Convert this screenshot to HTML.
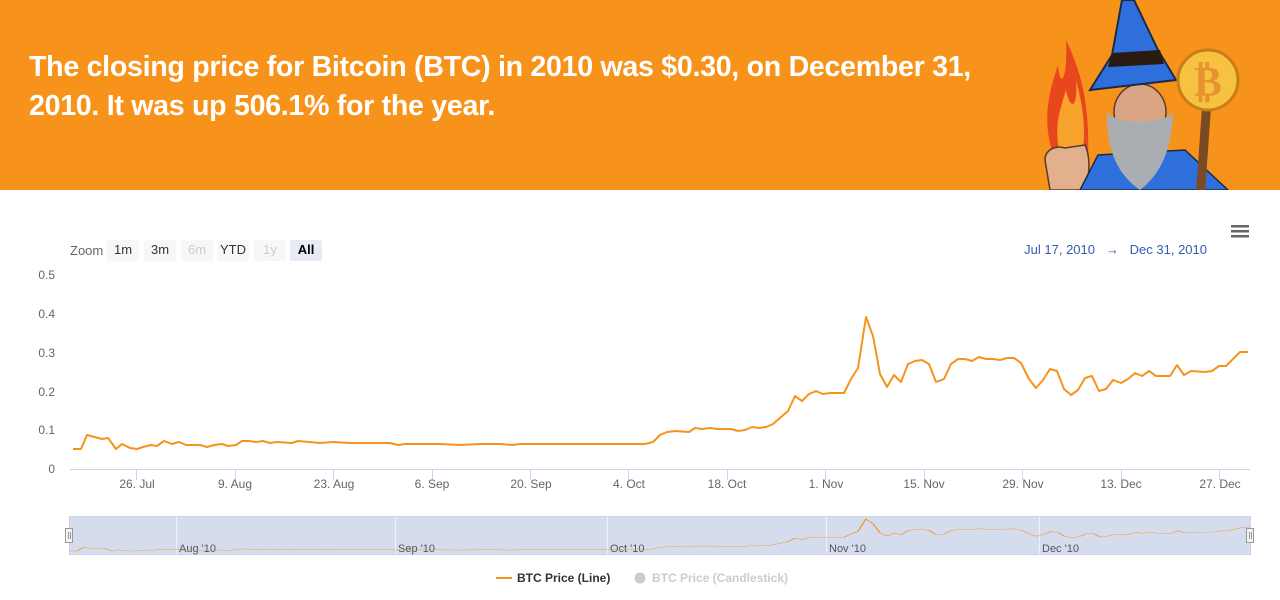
<!DOCTYPE html>
<html><head><meta charset="utf-8"><style>
body{margin:0;width:1280px;height:600px;overflow:hidden;background:#fff;font-family:"Liberation Sans",sans-serif;}
.hdr{position:absolute;left:0;top:0;width:1280px;height:190px;background:#f7931a;}
.hdr h1{position:absolute;left:29px;top:48px;margin:0;color:#fff;font-size:28.6px;line-height:39px;font-weight:bold;letter-spacing:-0.3px;width:990px;}
</style></head><body>
<div class="hdr"><h1>The closing price for Bitcoin (BTC) in 2010 was $0.30, on December 31, 2010. It was up 506.1% for the year.</h1>
<svg width="1280" height="190" style="position:absolute;left:0;top:0">
<path d="M1055 160 C1040 120 1050 90 1058 65 C1060 90 1068 80 1066 40 C1080 70 1090 100 1088 160 Z" fill="#e8461c"/>
<path d="M1062 160 C1052 130 1060 110 1066 90 C1070 110 1078 110 1076 80 C1084 110 1086 130 1082 160 Z" fill="#f7a22b"/>
<path d="M1050 190 L1045 160 C1045 150 1055 145 1065 148 L1085 145 C1092 160 1088 180 1085 190 Z" fill="#e2b08c" stroke="#5a3a2a" stroke-width="1.5"/>
<path d="M1080 190 L1098 155 L1185 150 L1228 190 Z" fill="#2f6fdb" stroke="#1b2a4a" stroke-width="1.5"/>
<rect x="1199" y="105" width="9" height="85" fill="#7a4a24" transform="rotate(4 1203 150)"/>
<ellipse cx="1140" cy="112" rx="26" ry="28" fill="#d9a584" stroke="#5a3a2a" stroke-width="1.5"/>
<path d="M1107 112 C1115 125 1165 125 1173 112 C1172 150 1160 175 1140 190 C1118 175 1106 150 1107 112 Z" fill="#aaadb2"/>
<path d="M1122 0 L1134 0 L1158 50 L1176 80 L1090 90 L1112 55 Z" fill="#2f6fdb" stroke="#1b2a4a" stroke-width="2"/>
<path d="M1112 53 L1160 50 L1164 64 L1108 67 Z" fill="#2a1a10"/>
<circle cx="1208" cy="80" r="30" fill="#f5c242" stroke="#c77d1a" stroke-width="3"/>
<text x="1208" y="96" font-size="42" font-weight="bold" text-anchor="middle" fill="#e8942e" font-family="DejaVu Sans">₿</text>
</svg></div>

<svg width="1280" height="410" style="position:absolute;left:0;top:190px" viewBox="0 190 1280 410">
<g font-size="13" fill="#333">
<text x="70" y="255" fill="#666">Zoom</text>
<rect x="107" y="240" width="32" height="21" rx="2" fill="#f7f7f7"/><text x="123" y="254" text-anchor="middle">1m</text>
<rect x="144" y="240" width="32" height="21" rx="2" fill="#f7f7f7"/><text x="160" y="254" text-anchor="middle">3m</text>
<rect x="181" y="240" width="32" height="21" rx="2" fill="#f7f7f7"/><text x="197" y="254" text-anchor="middle" fill="#ccc">6m</text>
<rect x="217" y="240" width="32" height="21" rx="2" fill="#f7f7f7"/><text x="233" y="254" text-anchor="middle">YTD</text>
<rect x="254" y="240" width="32" height="21" rx="2" fill="#f7f7f7"/><text x="270" y="254" text-anchor="middle" fill="#ccc">1y</text>
<rect x="290" y="240" width="32" height="21" rx="2" fill="#e6ebf5"/><text x="306" y="254" text-anchor="middle" font-weight="bold" fill="#000">All</text>
<text x="1207" y="254" text-anchor="end" fill="#335cad">Jul 17, 2010 &#160; → &#160; Dec 31, 2010</text>
</g>
<g fill="#666"><rect x="1231" y="225" width="18" height="2.5"/><rect x="1231" y="230" width="18" height="2.5"/><rect x="1231" y="235" width="18" height="2.5"/></g>
<g font-size="12" fill="#666" text-anchor="end">
<text x="55" y="279">0.5</text><text x="55" y="318">0.4</text><text x="55" y="357">0.3</text><text x="55" y="396">0.2</text><text x="55" y="434">0.1</text><text x="55" y="473">0</text>
</g>
<line x1="70" y1="469.5" x2="1250" y2="469.5" stroke="#ccd6eb"/>
<g stroke="#ccd6eb"><line x1="136.5" y1="470" x2="136.5" y2="480"/><line x1="235.5" y1="470" x2="235.5" y2="480"/><line x1="333.5" y1="470" x2="333.5" y2="480"/><line x1="432.5" y1="470" x2="432.5" y2="480"/><line x1="530.5" y1="470" x2="530.5" y2="480"/><line x1="628.5" y1="470" x2="628.5" y2="480"/><line x1="727.5" y1="470" x2="727.5" y2="480"/><line x1="825.5" y1="470" x2="825.5" y2="480"/><line x1="924.5" y1="470" x2="924.5" y2="480"/><line x1="1022.5" y1="470" x2="1022.5" y2="480"/><line x1="1121.5" y1="470" x2="1121.5" y2="480"/><line x1="1219.5" y1="470" x2="1219.5" y2="480"/></g>
<g font-size="12" fill="#666" text-anchor="middle">
<text x="137" y="488">26. Jul</text><text x="235" y="488">9. Aug</text><text x="334" y="488">23. Aug</text><text x="432" y="488">6. Sep</text><text x="531" y="488">20. Sep</text><text x="629" y="488">4. Oct</text><text x="727" y="488">18. Oct</text><text x="826" y="488">1. Nov</text><text x="924" y="488">15. Nov</text><text x="1023" y="488">29. Nov</text><text x="1121" y="488">13. Dec</text><text x="1220" y="488">27. Dec</text>
</g>
<defs><polyline id="ln" points="73,449 81,449 87,435 102,439 108,438 116,449 122,444 130,448 137,449 143,447 151,445 157,446 164,441 172,444 179,442 186,445 200,445 207,447 214,445 222,444 228,446 236,445 242,441 249,441 256,442 263,441 270,443 277,442 292,443 298,441 320,443 333,442 350,443 370,443 390,443 398,445 405,444 420,444 440,444 460,445 480,444 500,444 512,445 520,444 540,444 580,444 600,444 616,444 645,444 653,442 660,435 667,432 676,431 689,432 695,428 702,429 710,428 717,429 731,429 738,431 745,430 752,427 759,428 766,427 773,424 781,417 788,411 795,396 802,401 809,394 816,391 823,394 830,393 844,393 851,379 858,368 866,317 873,336 880,374 887,387 894,375 901,382 908,364 915,361 922,360 929,364 936,382 944,379 951,364 958,359 965,359 972,361 979,357 986,359 993,359 1000,360 1007,358 1014,358 1021,363 1029,379 1036,388 1043,380 1050,369 1057,371 1064,389 1071,395 1078,390 1085,378 1092,376 1099,391 1106,389 1113,380 1121,383 1128,379 1135,373 1142,376 1149,371 1156,376 1170,376 1177,365 1184,375 1191,371 1205,372 1212,371 1219,366 1226,366 1233,359 1240,352 1248,352"/></defs>
<use href="#ln" fill="none" stroke="#f7931a" stroke-width="2" stroke-linejoin="round"/>
<rect x="69.5" y="516.5" width="1181" height="38" fill="#ccd6eb" fill-opacity="0.85" stroke="#ccd6eb"/>
<g stroke="#fff" stroke-opacity="0.6"><line x1="176.5" y1="517" x2="176.5" y2="554"/><line x1="395.5" y1="517" x2="395.5" y2="554"/><line x1="607.5" y1="517" x2="607.5" y2="554"/><line x1="826.5" y1="517" x2="826.5" y2="554"/><line x1="1039.5" y1="517" x2="1039.5" y2="554"/></g>
<g font-size="11" fill="#555"><text x="179" y="552">Aug '10</text><text x="398" y="552">Sep '10</text><text x="610" y="552">Oct '10</text><text x="829" y="552">Nov '10</text><text x="1042" y="552">Dec '10</text></g>
<use href="#ln" fill="none" stroke="#f7931a" stroke-width="1.5" vector-effect="non-scaling-stroke" transform="matrix(1.005 0 0 0.2424 -4.4 442.2)"/>
<g fill="#f2f2f2" stroke="#999"><rect x="65.5" y="528.5" width="7" height="14"/><rect x="1246.5" y="528.5" width="7" height="14"/></g>
<g stroke="#999"><line x1="68.5" y1="532" x2="68.5" y2="539"/><line x1="70.5" y1="532" x2="70.5" y2="539"/><line x1="1249.5" y1="532" x2="1249.5" y2="539"/><line x1="1251.5" y1="532" x2="1251.5" y2="539"/></g>
<line x1="496" y1="578" x2="512" y2="578" stroke="#f7931a" stroke-width="2"/>
<text x="517" y="582" font-size="12" font-weight="bold" fill="#333">BTC Price (Line)</text>
<circle cx="640" cy="578" r="5.5" fill="#ccc"/>
<text x="652" y="582" font-size="12" font-weight="bold" fill="#ccc">BTC Price (Candlestick)</text>
</svg>
</body></html>
